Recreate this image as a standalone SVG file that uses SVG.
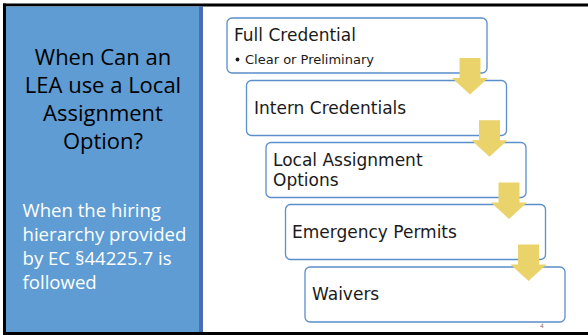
<svg xmlns="http://www.w3.org/2000/svg" width="588" height="335" viewBox="0 0 588 335">
  <style>
    .box { fill: #ffffff; stroke: #5b8fc9; stroke-width: 1.3; }
    .lbl { font-family: "DejaVu Sans", Verdana, sans-serif; font-size: 17px; fill: #1a1a1a; }
    .sub { font-family: "DejaVu Sans", Verdana, sans-serif; font-size: 13px; fill: #1a1a1a; }
    .arrow { fill: #ebd36b; }
    .title { font-family: "Open Sans", "Liberation Sans", sans-serif; font-size: 22px; fill: #000000; text-anchor: middle; }
    .note { font-family: "Open Sans", "Liberation Sans", sans-serif; font-size: 18.6px; fill: #ffffff; }
  </style>
  <rect x="0" y="0" width="588" height="335" fill="#ffffff"/>
  <g id="panel">
    <rect x="3" y="3.5" width="585" height="3" fill="#000000"/>
    <rect x="3" y="3.5" width="3" height="331.5" fill="#000000"/>
    <rect x="3" y="332" width="585" height="3" fill="#000000"/>
    <rect x="6" y="6.5" width="193" height="325.5" fill="#5e9cd3"/>
    <rect x="199" y="6.5" width="4" height="325.5" fill="#4a6db5"/>
    <text class="title" x="103" y="65">When Can an</text>
    <text class="title" x="103" y="93">LEA use a Local</text>
    <text class="title" x="103" y="121">Assignment</text>
    <text class="title" x="103" y="149">Option?</text>
    <text class="note" x="22.5" y="216.5">When the hiring</text>
    <text class="note" x="22.5" y="240.5">hierarchy provided</text>
    <text class="note" x="22.5" y="264.5">by EC §44225.7 is</text>
    <text class="note" x="22.5" y="288.5">followed</text>
  </g>
  <g id="full-credential">
    <rect class="box" x="227" y="18" width="260" height="55" rx="5"/>
    <text class="lbl" x="234" y="40.5">Full Credential</text>
    <circle cx="237.5" cy="59.5" r="1.9" fill="#1a1a1a"/>
    <text class="sub" x="245" y="63.5">Clear or Preliminary</text>
  </g>
  <g id="intern-credentials">
    <rect class="box" x="246.5" y="80.5" width="260" height="55" rx="5"/>
    <text class="lbl" x="254" y="113.5">Intern Credentials</text>
  </g>
  <g id="local-assignment-options">
    <rect class="box" x="266" y="142.5" width="260" height="55" rx="5"/>
    <text class="lbl" x="273" y="166">Local Assignment</text>
    <text class="lbl" x="273" y="185.5">Options</text>
  </g>
  <g id="emergency-permits">
    <rect class="box" x="285.5" y="204.5" width="260" height="55" rx="5"/>
    <text class="lbl" x="292" y="238">Emergency Permits</text>
  </g>
  <g id="waivers">
    <rect class="box" x="305" y="267" width="260" height="55" rx="5"/>
    <text class="lbl" x="312" y="300">Waivers</text>
  </g>
  <g id="connectors">
    <path class="arrow" d="M459.5,58 H480.5 V78 H488 L470,94.5 L452,78 H459.5 Z"/>
    <path class="arrow" d="M479,120.2 H500 V140.2 H507.5 L489.5,156.7 L471.5,140.2 H479 Z"/>
    <path class="arrow" d="M498.5,182.4 H519.5 V202.4 H527 L509,218.9 L491,202.4 H498.5 Z"/>
    <path class="arrow" d="M518,244.6 H539 V264.6 H546.5 L528.5,281.1 L510.5,264.6 H518 Z"/>
  </g>
  <text x="540" y="328" font-family="DejaVu Sans, sans-serif" font-size="6" fill="#777777">4</text>
</svg>
